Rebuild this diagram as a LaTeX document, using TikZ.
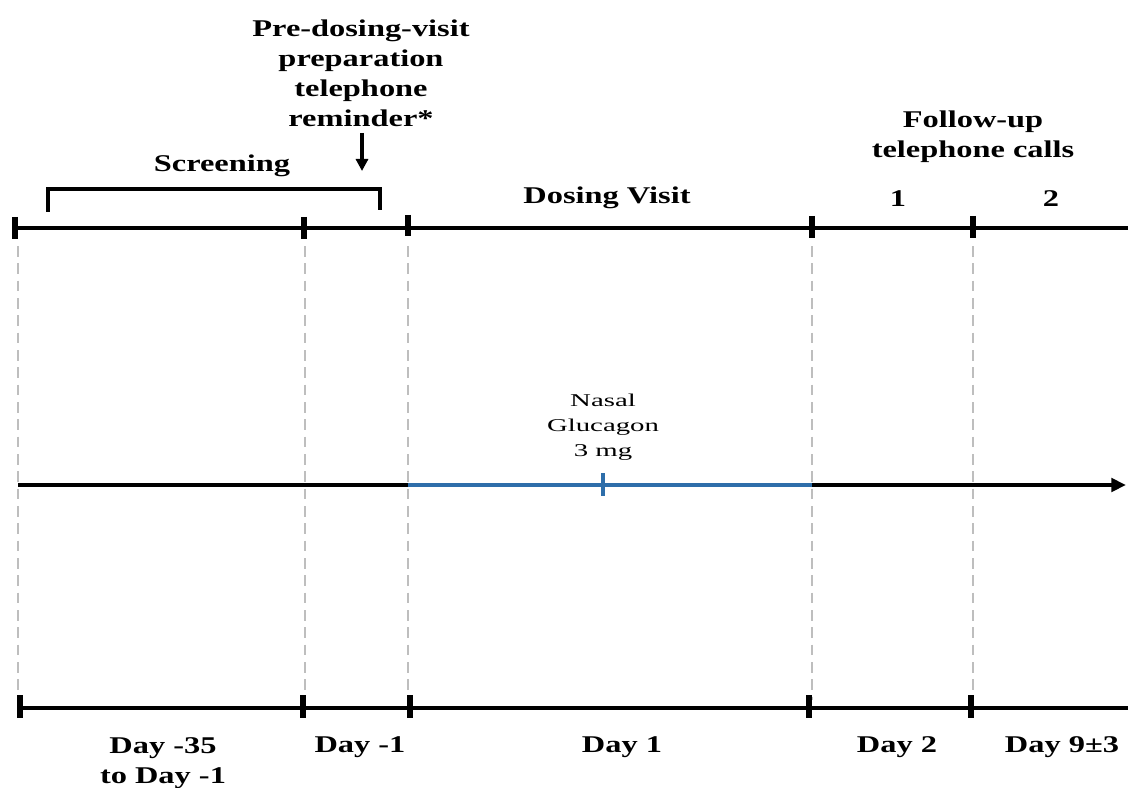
\documentclass[tikz,border=0pt]{standalone}
\usepackage{fontspec}
\setmainfont{Liberation Serif}[FakeStretch=1.35]
\newfontfamily\nasalfont{Liberation Serif}[FakeStretch=1.6]
\usetikzlibrary{arrows.meta}
\definecolor{dosblue}{RGB}{46,110,170}
\definecolor{dashgray}{RGB}{190,190,190}
\tikzset{
  lbl/.style={font=\fontsize{18}{22.5}\selectfont\bfseries, align=center, inner sep=0pt},
  nasal/.style={font=\nasalfont\fontsize{13.5}{18.75}\selectfont, align=center, inner sep=0pt},
  axis/.style={line width=2.6pt},
  tickmark/.style={line width=4pt},
  guide/.style={dashgray, line width=1.5pt, dash pattern=on 8pt off 5pt},
}
\begin{document}
\begin{tikzpicture}[x=0.75pt,y=-0.75pt]
\useasboundingbox (0,0) rectangle (1128,788);
% guide lines
\foreach \xx in {18,305,408,812,973}{
  \draw[guide] (\xx,246) -- (\xx,700);
}
% top axis
\coordinate (t0) at (15,228);
\coordinate (tend) at (1128,228);
\draw[line width=2.4pt] (t0) -- (tend);
\foreach \xx/\ya/\yb in {15/217/239,304/217/239,408/215/236,812/216/238,973/216/238}{
  \draw[tickmark] (\xx,\ya) -- (\xx,\yb);
}
% screening bracket
\coordinate (bl) at (48,212);
\coordinate (br) at (380,210);
\draw[line width=2.4pt] (bl) -- (48,189) -- (380,189) -- (br);
\draw[line width=3.5pt] (48,196) -- (bl);
\draw[line width=3.5pt] (380,196) -- (br);
% labels top
\node[lbl] (scr) at (222,166) {Screening};
\node[lbl] (pre) at (361,73) {Pre-dosing-visit\\preparation\\telephone\\reminder*};
\coordinate (arrtop) at (362,133);
\coordinate (arrbot) at (362,171);
\draw[line width=2.4pt,-{Triangle[length=9pt,width=9pt]}] (arrtop) -- (arrbot);
\node[lbl] (dv) at (607,198) {Dosing Visit};
\node[lbl] (fu) at (973,137) {Follow-up\\telephone calls};
\node[lbl] (one) at (898,199) {1};
\node[lbl] (two) at (1051,199) {2};
% middle timeline
\coordinate (m0) at (18,485);
\coordinate (m1) at (408,485);
\coordinate (m2) at (812,485);
\coordinate (m3) at (1126,485);
\draw[line width=3.6pt] (m0) -- (m1);
\draw[dosblue,line width=3pt] (m1) -- (m2);
\draw[line width=2.8pt,-{Triangle[length=11pt,width=10pt]}] (m2) -- (m3);
\coordinate (dose) at (603,485);
\draw[dosblue,line width=3.5pt] (603,473) -- (603,496);
\node[nasal] (ng) at (603,427) {Nasal\\Glucagon\\3 mg};
% bottom axis
\draw[line width=2.8pt] (18,708) -- (1128,708);
\foreach \xx in {20,303,410,809,971}{
  \draw[tickmark] (\xx,695) -- (\xx,718);
}
\node[lbl] (d35) at (163,763) {Day -35\\to Day -1};
\node[lbl] (dm1) at (360,747) {Day -1};
\node[lbl] (d1) at (622,747) {Day 1};
\node[lbl] (d2) at (897,747) {Day 2};
\node[lbl] (d9) at (1062,747) {Day 9\textpm3};
\end{tikzpicture}
\end{document}
